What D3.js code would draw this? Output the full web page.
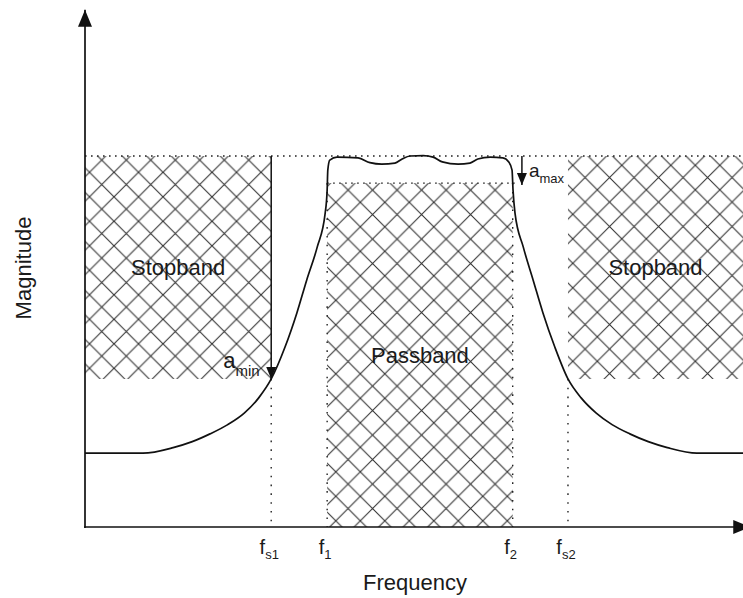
<!DOCTYPE html>
<html>
<head>
<meta charset="utf-8">
<script src="https://cdn.jsdelivr.net/npm/d3@7"></script>
<style>
  body { margin: 0; background: #fff; }
  svg { display: block; }
  text { font-family: "Liberation Sans", Arial, Helvetica, sans-serif; fill: #1a1a1a; }
</style>
</head>
<body>
<svg id="chart" width="743" height="598"></svg>
<script>
// Band-edge frequencies (relative units along the frequency axis) and their subscripts
const edgeSubs  = ["s1", "1", "2", "s2"];
const edgeFreqs = [28.3, 36.8, 65.0, 73.4];

// Magnitude levels (1 = reference level)
const refLevel  = 1.0;
const passLevel = 0.927;   // bottom of the allowed passband ripple
const stopLevel = 0.399;   // top of the allowed stopband level

// Band-pass magnitude response, sampled
const responseFreq = [0, 6.1, 8.8, 13.4, 16.3, 19.0, 21.7, 24.2, 26.4, 28.3, 30.4, 32.2, 33.7, 35.3, 36.5, 36.8, 36.9,
  37.2, 38.3, 41.5, 43.3, 45.1, 47.1, 48.2, 49.4, 51.4, 52.9, 54.3, 56.7, 58.5, 59.7, 61.6, 63.5, 64.4, 64.9,
  65.05, 65.35, 66.6, 68.1, 69.6, 71.4, 73.4, 75.4, 77.7, 80.1, 82.8, 85.6, 88.5, 93.0, 100];
const responseMag  = [0.199, 0.199, 0.199, 0.214, 0.230, 0.251, 0.276, 0.307, 0.348, 0.399, 0.485, 0.577, 0.666, 0.755, 0.846, 0.908, 0.962,
  0.989, 0.997, 0.995, 0.982, 0.978, 0.981, 0.992, 1.0, 1.001, 0.997, 0.984, 0.978, 0.981, 0.992, 0.997, 0.995, 0.984, 0.962,
  0.908, 0.846, 0.755, 0.666, 0.577, 0.485, 0.399, 0.348, 0.307, 0.276, 0.251, 0.230, 0.214, 0.199, 0.199];

// Tolerance regions
const bandNames = ["Stopband", "Passband", "Stopband"];
const bandFreqLo = [0, 36.8, 73.4];
const bandFreqHi = [28.3, 65.0, 100];
const bandMagLo  = [stopLevel, 0, stopLevel];
const bandMagHi  = [refLevel, passLevel, refLevel];

// Axis titles
const xTitle = "Frequency";
const yTitle = "Magnitude";

const svg = d3.select("#chart");
const x = d3.scaleLinear().domain([0, 100]).range([85, 743]);
const y = d3.scaleLinear().domain([0, 1]).range([527, 156]);

const defs = svg.append("defs");

// Cross-hatch fill for each tolerance region (own phase per region)
const hatchSize = 24.5;
const hatchPhase = [[89.5, 147.8], [335.8, 177.8], [572.8, 287.8]];
bandNames.forEach((n, i) => {
  const p = defs.append("pattern")
    .attr("id", "hatch" + i)
    .attr("patternUnits", "userSpaceOnUse")
    .attr("width", hatchSize).attr("height", hatchSize)
    .attr("x", hatchPhase[i][0]).attr("y", hatchPhase[i][1]);
  p.append("path")
    .attr("d", `M0,0L${hatchSize},${hatchSize}M0,${hatchSize}L${hatchSize},0` +
               `M-1,1L1,-1M${hatchSize - 1},${hatchSize + 1}L${hatchSize + 1},${hatchSize - 1}`)
    .attr("stroke", "#333").attr("stroke-width", 1.1).attr("fill", "none");
});

// Arrowheads
defs.append("marker").attr("id", "axisHead")
  .attr("markerUnits", "userSpaceOnUse").attr("viewBox", "0 -8 17 16")
  .attr("refX", 17).attr("refY", 0).attr("markerWidth", 17).attr("markerHeight", 16)
  .attr("orient", "auto")
  .append("path").attr("d", "M0,-7L17,0L0,7Z").attr("fill", "#111");
defs.append("marker").attr("id", "smallHead")
  .attr("markerUnits", "userSpaceOnUse").attr("viewBox", "0 -6 12 12")
  .attr("refX", 12).attr("refY", 0).attr("markerWidth", 12).attr("markerHeight", 12)
  .attr("orient", "auto")
  .append("path").attr("d", "M0,-5L12,0L0,5Z").attr("fill", "#111");

// Hatched regions
svg.append("g").selectAll("rect")
  .data(bandNames)
  .join("rect")
  .attr("x", (d, i) => x(bandFreqLo[i]))
  .attr("y", (d, i) => y(bandMagHi[i]))
  .attr("width", (d, i) => x(bandFreqHi[i]) - x(bandFreqLo[i]))
  .attr("height", (d, i) => y(bandMagLo[i]) - y(bandMagHi[i]))
  .attr("fill", (d, i) => `url(#hatch${i})`);

// Dotted guide lines
const guides = svg.append("g").attr("fill", "none").attr("stroke", "#222");
guides.append("line")
  .attr("x1", x(0)).attr("x2", x(100)).attr("y1", y(refLevel)).attr("y2", y(refLevel))
  .attr("stroke-width", 1.3).attr("stroke-dasharray", "1.6,4.4");
guides.append("line")
  .attr("x1", x(edgeFreqs[1])).attr("x2", x(edgeFreqs[2]) + 2).attr("y1", y(passLevel)).attr("y2", y(passLevel))
  .attr("stroke-width", 1.3).attr("stroke-dasharray", "1.6,4.4");
// vertical edges: stopband edges start at the stopband level, passband edges at the passband level
const edgeTop = [stopLevel, passLevel, passLevel, stopLevel];
guides.selectAll("line.edge")
  .data(edgeFreqs)
  .join("line").attr("class", "edge")
  .attr("x1", d => x(d)).attr("x2", d => x(d))
  .attr("y1", (d, i) => y(edgeTop[i])).attr("y2", y(0))
  .attr("stroke-width", 1.4).attr("stroke-dasharray", "1.6,7.2");

// Response curve
const line = d3.line()
  .x(d => x(d[0])).y(d => y(d[1]))
  .curve(d3.curveMonotoneX);
svg.append("path")
  .datum(responseFreq.map((f, i) => [f, responseMag[i]]))
  .attr("d", line)
  .attr("fill", "none").attr("stroke", "#111").attr("stroke-width", 1.7);

// Axes with arrowheads
svg.append("line")
  .attr("x1", x(0)).attr("x2", x(0)).attr("y1", y(0) + 1).attr("y2", y(1.394))
  .attr("stroke", "#111").attr("stroke-width", 1.7).attr("marker-end", "url(#axisHead)");
svg.append("line")
  .attr("x1", x(0) - 1).attr("x2", x(101.1)).attr("y1", y(0)).attr("y2", y(0))
  .attr("stroke", "#111").attr("stroke-width", 1.7).attr("marker-end", "url(#axisHead)");

// Attenuation arrows a_min and a_max
const aMinFreq = edgeFreqs[0];
const aMaxFreq = 66.4;
svg.append("line")
  .attr("x1", x(aMinFreq)).attr("x2", x(aMinFreq)).attr("y1", y(refLevel)).attr("y2", y(stopLevel))
  .attr("stroke", "#111").attr("stroke-width", 1.5).attr("marker-end", "url(#smallHead)");
svg.append("line")
  .attr("x1", x(aMaxFreq)).attr("x2", x(aMaxFreq)).attr("y1", y(refLevel)).attr("y2", y(passLevel) + 2)
  .attr("stroke", "#111").attr("stroke-width", 1.5).attr("marker-end", "url(#smallHead)");

const aMin = svg.append("text").attr("x", x(aMinFreq) - 48).attr("y", y(stopLevel) - 11).style("font-size", "22px");
aMin.append("tspan").text("a");
aMin.append("tspan").attr("dy", 8).style("font-size", "15px").text("min");
const aMax = svg.append("text").attr("x", x(aMaxFreq) + 7).attr("y", y(passLevel) - 6).style("font-size", "19px");
aMax.append("tspan").text("a");
aMax.append("tspan").attr("dy", 6).style("font-size", "13px").text("max");

// Band labels
svg.append("g").selectAll("text")
  .data(bandNames)
  .join("text")
  .attr("x", (d, i) => (x(bandFreqLo[i]) + x(bandFreqHi[i])) / 2)
  .attr("y", (d, i) => (y(bandMagLo[i]) + y(bandMagHi[i])) / 2 + 7.5)
  .attr("text-anchor", "middle")
  .style("font-size", "22px")
  .text(d => d);

// Edge-frequency labels f with subscripts
const edgeLabels = svg.append("g").selectAll("text")
  .data(edgeFreqs)
  .join("text")
  .attr("x", d => x(d) - 2)
  .attr("y", y(0) + 27)
  .attr("text-anchor", "middle")
  .style("font-size", "20px");
edgeLabels.append("tspan").text("f");
edgeLabels.append("tspan").attr("dy", 5).style("font-size", "13px").text((d, i) => edgeSubs[i]);

// Axis titles
svg.append("text")
  .attr("x", 415).attr("y", 590)
  .attr("text-anchor", "middle").style("font-size", "22px").text(xTitle);
svg.append("text")
  .attr("transform", "translate(31, 268)rotate(-90)")
  .attr("text-anchor", "middle").style("font-size", "22px").text(yTitle);
</script>
</body>
</html>
